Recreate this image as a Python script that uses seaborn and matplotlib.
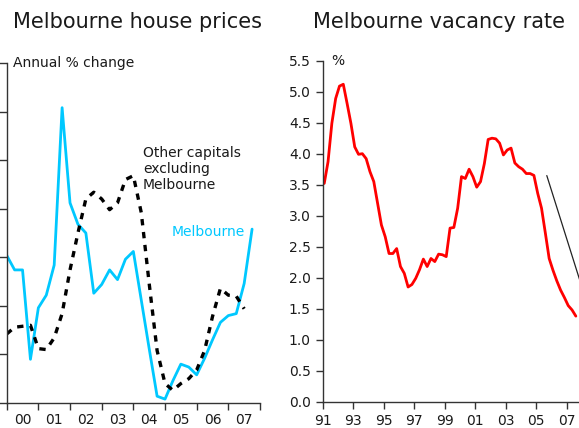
import numpy as np
import pandas as pd
import matplotlib
matplotlib.use("Agg")
import matplotlib.pyplot as plt
import seaborn as sns

# ---- data ----
quarters_left = np.arange(2000.0, 2008.0, 0.25)
melbourne = [10.2, 8.7, 8.7, -0.5, 4.8, 6.1, 9.2, 25.4, 15.6, 13.4, 12.5, 6.3,
             7.2, 8.7, 7.7, 9.8, 10.6, 5.6, 0.6, -4.3, -4.6, -2.7, -1.0, -1.3,
             -2.1, -0.4, 1.5, 3.3, 4.0, 4.2, 7.3, 12.9]
other_capitals = [2.1, 2.8, 2.9, 3.0, 0.6, 0.5, 1.7, 4.2, 8.7, 12.5, 16.0, 16.7,
                  16.0, 14.9, 15.6, 18.0, 18.4, 14.6, 7.3, 0.4, -3.0, -3.7, -3.0, -2.5,
                  -1.6, 0.4, 3.9, 6.8, 6.1, 6.0, 4.7, np.nan]
left_xticks = [2000, 2001, 2002, 2003, 2004, 2005, 2006, 2007, 2008]
left_xlabels = ["00", "01", "02", "03", "04", "05", "06", "07"]
left_yticks = [-5, 0, 5, 10, 15, 20, 25, 30]

quarters_right = 1991.1 + 0.25 * np.arange(67)
vacancy = [3.52, 3.87, 4.49, 4.89, 5.09, 5.12, 4.81, 4.49, 4.11, 3.99, 4.00, 3.92,
           3.71, 3.55, 3.20, 2.85, 2.66, 2.39, 2.39, 2.47, 2.18, 2.07, 1.85, 1.89,
           1.99, 2.13, 2.30, 2.18, 2.31, 2.26, 2.38, 2.37, 2.34, 2.80, 2.81, 3.12,
           3.63, 3.60, 3.75, 3.63, 3.46, 3.55, 3.84, 4.23, 4.25, 4.24, 4.17, 3.98,
           4.06, 4.09, 3.85, 3.79, 3.75, 3.68, 3.68, 3.65, 3.36, 3.12, 2.72, 2.31,
           2.12, 1.95, 1.80, 1.68, 1.55, 1.48, 1.38]
right_xticks = [1991, 1993, 1995, 1997, 1999, 2001, 2003, 2005, 2007]
right_xlabels = ["91", "93", "95", "97", "99", "01", "03", "05", "07"]
right_yticks = [0.0, 0.5, 1.0, 1.5, 2.0, 2.5, 3.0, 3.5, 4.0, 4.5, 5.0, 5.5]

CYAN = "#00C8FF"
RED = "#FF0000"
AXC = "#333333"
TXT = "#1a1a1a"

sns.set_style("ticks")
plt.rcParams["font.family"] = ["DejaVu Sans"]

W, H = 579, 428
fig = plt.figure(figsize=(W / 100, H / 100), dpi=100)

# ---- left panel ----
ax1 = fig.add_axes([6.7 / W, 25 / H, 253.3 / W, 340 / H])
df1 = pd.DataFrame({"t": quarters_left, "mel": melbourne, "oth": other_capitals})
sns.lineplot(data=df1, x="t", y="mel", ax=ax1, color=CYAN, linewidth=2.0)
sns.lineplot(data=df1, x="t", y="oth", ax=ax1, color="black", linewidth=2.4)
ax1.lines[1].set_linestyle((0, (1.9, 2.0)))
ax1.set_xlim(2000, 2008)
ax1.set_ylim(-5, 30)
ax1.set_xticks(left_xticks)
ax1.set_xticklabels([])
ax1.set_xticks([x + 0.5 for x in left_xticks[:-1]], minor=True)
ax1.set_xticklabels(left_xlabels, minor=True)
ax1.tick_params(axis="x", which="minor", length=0, pad=7, labelsize=10, labelcolor=TXT)
ax1.tick_params(axis="x", which="major", length=5, width=1, color=AXC)
ax1.set_yticks(left_yticks)
ax1.tick_params(axis="y", length=6, width=1, color=AXC, labelleft=False)
ax1.set_xlabel("")
ax1.set_ylabel("")
for s in ["top", "right"]:
    ax1.spines[s].set_visible(False)
for s in ["left", "bottom"]:
    ax1.spines[s].set_color(AXC)
    ax1.spines[s].set_linewidth(1)
ax1.text(2000.2, 30, "Annual % change", fontsize=10, color=TXT, va="center", ha="left")
ax1.text(2004.3, 19.1, "Other capitals\nexcluding\nMelbourne", fontsize=10,
         color=TXT, va="center", ha="left", linespacing=1.15)
ax1.text(2005.22, 12.6, "Melbourne", fontsize=10, color=CYAN, va="center", ha="left")

# ---- right panel ----
px_per_year = 15.25
xmax = 2009
ax2 = fig.add_axes([322.7 / W, 26.3 / H, (xmax - 1991) * px_per_year / W, 341 / H])
df2 = pd.DataFrame({"t": quarters_right, "v": vacancy})
sns.lineplot(data=df2, x="t", y="v", ax=ax2, color=RED, linewidth=2.0)
ax2.set_xlim(1991, xmax)
ax2.set_ylim(0, 5.5)
ax2.set_xticks(right_xticks)
ax2.set_xticklabels(right_xlabels)
ax2.set_yticks(right_yticks)
ax2.set_yticklabels([f"{v:.1f}" for v in right_yticks])
ax2.tick_params(axis="both", length=5, width=1, color=AXC, labelsize=10, labelcolor=TXT)
ax2.tick_params(axis="x", pad=4)
ax2.set_xlabel("")
ax2.set_ylabel("")
for s in ["top", "right"]:
    ax2.spines[s].set_visible(False)
for s in ["left", "bottom"]:
    ax2.spines[s].set_color(AXC)
    ax2.spines[s].set_linewidth(1)
ax2.text(1991.55, 5.5, "%", fontsize=10, color=TXT, va="center", ha="left")
ax2.annotate("", xy=(2009.6, 0.6), xytext=(2005.64, 3.69),
             arrowprops=dict(arrowstyle="-", color="#222222", lw=0.9),
             annotation_clip=False)

# ---- titles ----
fig.text(13 / W, 1 - 28 / H, "Melbourne house prices", fontsize=15, color=TXT,
         ha="left", va="baseline")
fig.text(313 / W, 1 - 28 / H, "Melbourne vacancy rate", fontsize=15, color=TXT,
         ha="left", va="baseline")

fig.savefig("out.png", dpi=100)
